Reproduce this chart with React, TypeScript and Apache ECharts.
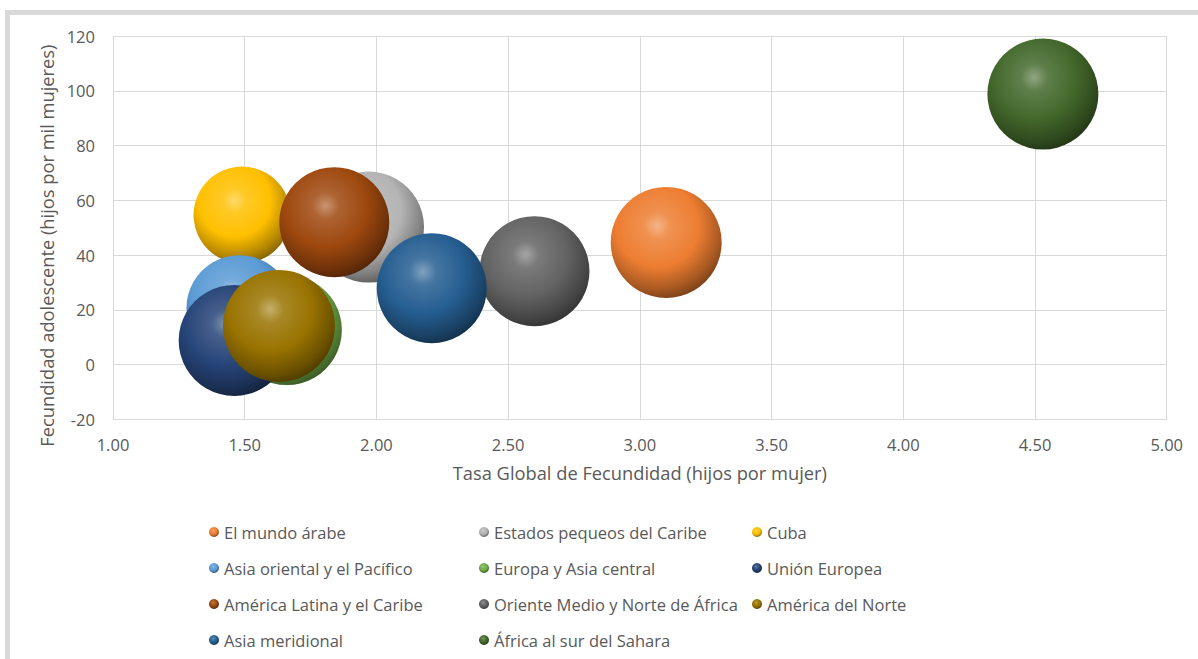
import React, { useEffect, useRef } from "react";
import * as echarts from "echarts";

// ---- Data ----
const categorias = [
  "El mundo árabe",
  "Estados pequeos del Caribe",
  "Cuba",
  "Asia oriental y el Pacífico",
  "Europa y Asia central",
  "Unión Europea",
  "América Latina y el Caribe",
  "Oriente Medio y Norte de África",
  "América del Norte",
  "Asia meridional",
  "África al sur del Sahara",
];
// Tasa Global de Fecundidad (hijos por mujer)
const tgf = [3.1, 1.97, 1.49, 1.48, 1.66, 1.46, 1.84, 2.6, 1.63, 2.21, 4.53];
// Fecundidad adolescente (hijos por mil mujeres)
const fecAdol = [44.6, 50.2, 54.6, 20.6, 12.6, 8.8, 52.0, 34.1, 14.1, 27.9, 98.8];
// Bubble size
const tamano = [111, 111, 97, 106, 110, 111, 110, 110, 112, 110, 111];

// Legend columns (indices into categorias)
const legendCol1 = [0, 3, 6, 9];
const legendCol2 = [1, 4, 7, 10];
const legendCol3 = [2, 5, 8];

// ---- Styles ----
const baseColors = [
  "#ED7D31",
  "#B4B4B4",
  "#FFC000",
  "#5B9BD5",
  "#70AD47",
  "#264478",
  "#9E480E",
  "#636363",
  "#997300",
  "#255E91",
  "#43682B",
];

function mix(hex: string, target: string, t: number): string {
  const p = (h: string) => [
    parseInt(h.slice(1, 3), 16),
    parseInt(h.slice(3, 5), 16),
    parseInt(h.slice(5, 7), 16),
  ];
  const a = p(hex);
  const b = p(target);
  const c = a.map((v, i) => Math.round(v + (b[i] - v) * t));
  return "#" + c.map((v) => v.toString(16).padStart(2, "0")).join("");
}

function sphere(hex: string) {
  return {
    type: "radial",
    x: 0.42,
    y: 0.35,
    r: 0.68,
    colorStops: [
      { offset: 0, color: mix(hex, "#ffffff", 0.42) },
      { offset: 0.18, color: mix(hex, "#ffffff", 0.15) },
      { offset: 0.55, color: hex },
      { offset: 0.85, color: mix(hex, "#000000", 0.3) },
      { offset: 1, color: mix(hex, "#000000", 0.5) },
    ],
  };
}

const FONT = "'Open Sans', sans-serif";
const TXT = "#595959";
const GRID = "#d9d9d9";

export default function App() {
  const ref = useRef<HTMLDivElement | null>(null);

  useEffect(() => {
    if (!ref.current) return;
    const chart = echarts.init(ref.current, null, { renderer: "svg" });

    const series = categorias.map((name, i) => ({
      type: "scatter",
      name,
      data: [[tgf[i], fecAdol[i], tamano[i]]],
      symbol: "circle",
      symbolSize: (v: number[]) => v[2],
      itemStyle: { color: sphere(baseColors[i]), opacity: 1 },
      emphasis: { disabled: true },
    }));

    const legendBase = {
      orient: "vertical",
      top: 522,
      padding: 0,
      itemGap: 16,
      itemWidth: 10,
      itemHeight: 10,
      icon: "circle",
      selectedMode: false,
      textStyle: { color: TXT, fontFamily: FONT, fontSize: 16.5, lineHeight: 20 },
    };

    chart.setOption({
      animation: false,
      backgroundColor: "#ffffff",
      textStyle: { fontFamily: FONT },
      graphic: [
        { type: "rect", shape: { x: 5, y: 10, width: 1193, height: 5 }, style: { fill: GRID }, silent: true },
        { type: "rect", shape: { x: 5, y: 10, width: 5, height: 649 }, style: { fill: GRID }, silent: true },
      ],
      grid: { left: 113, right: 31.3, top: 36, bottom: 239.7, containLabel: false },
      xAxis: {
        type: "value",
        min: 1,
        max: 5,
        interval: 0.5,
        name: "Tasa Global de Fecundidad (hijos por mujer)",
        nameLocation: "middle",
        nameGap: 44,
        nameTextStyle: { color: TXT, fontFamily: FONT, fontSize: 18.3 },
        axisLine: { show: false },
        axisTick: { show: false },
        axisLabel: {
          color: TXT,
          fontFamily: FONT,
          fontSize: 16.5,
          margin: 17,
          formatter: (v: number) => v.toFixed(2),
        },
        splitLine: { show: true, lineStyle: { color: GRID, width: 1 } },
      },
      yAxis: {
        type: "value",
        min: -20,
        max: 120,
        interval: 20,
        name: "Fecundidad adolescente (hijos por mil mujeres)",
        nameLocation: "middle",
        nameGap: 53,
        nameTextStyle: { color: TXT, fontFamily: FONT, fontSize: 18.3, padding: [0, 36, 0, 0] },
        axisLine: { show: false },
        axisTick: { show: false },
        axisLabel: { color: TXT, fontFamily: FONT, fontSize: 16.5, margin: 18 },
        splitLine: { show: true, lineStyle: { color: GRID, width: 1 } },
      },
      legend: [
        { ...legendBase, left: 209, data: legendCol1.map((i) => categorias[i]) },
        { ...legendBase, left: 479, data: legendCol2.map((i) => categorias[i]) },
        { ...legendBase, left: 752, data: legendCol3.map((i) => categorias[i]) },
      ],
      series,
    });

    return () => chart.dispose();
  }, []);

  return (
    <div
      ref={ref}
      style={{ position: "absolute", left: 0, top: 0, width: 1198, height: 659, background: "#fff" }}
    />
  );
}
